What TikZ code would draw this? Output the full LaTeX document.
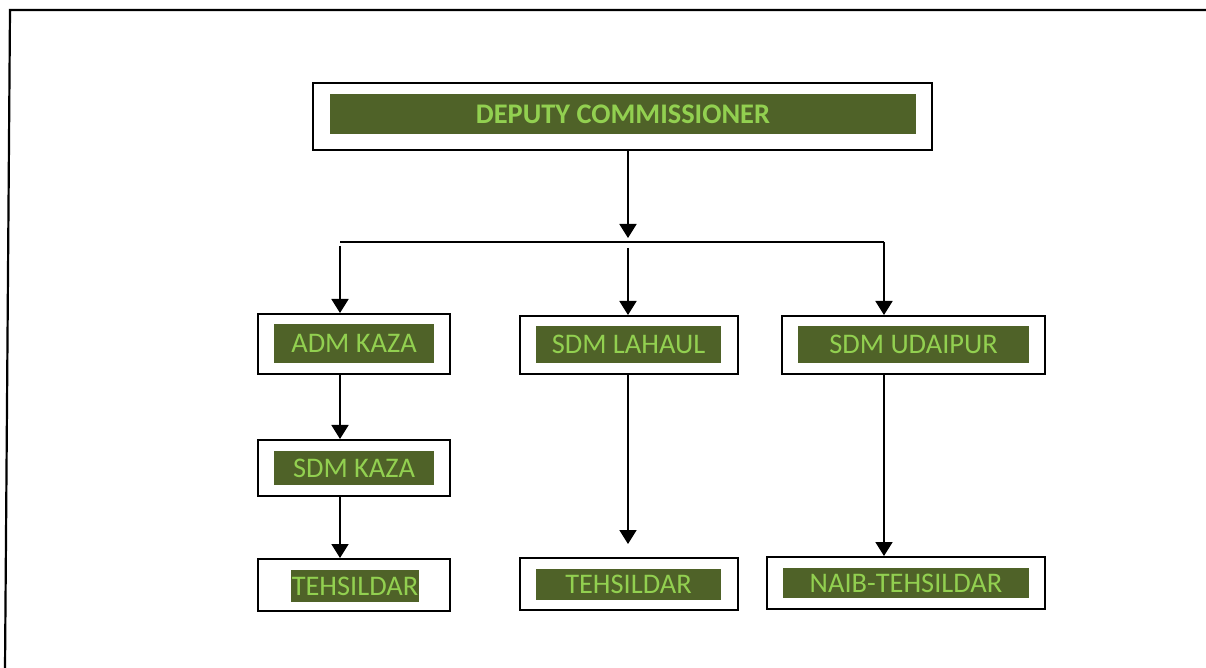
\documentclass[tikz,border=0pt]{standalone}
\usepackage{fontspec}
\setmainfont{Carlito}
\usetikzlibrary{arrows.meta}
\definecolor{olivedark}{RGB}{79,98,40}
\definecolor{leafgreen}{RGB}{146,208,80}
\begin{document}
\begin{tikzpicture}[x=0.5pt,y=-0.5pt,
  frame/.style={draw=black,line width=1pt,fill=white,inner sep=0pt},
  label/.style={fill=olivedark,text=leafgreen,inner sep=0pt,
    font=\fontsize{14.2}{16}\selectfont,text height=9.2pt,text depth=0pt},
  arr/.style={draw=black,line width=0.9pt,-{Triangle[width=8.5pt,length=7pt]}},
  link/.style={draw=black,line width=0.9pt}]
\useasboundingbox (0,0) rectangle (1206,668);
% page border
\draw[line width=1.1pt] (1210,10) -- (10,10) -- (5,670);

% top level
\node[frame,minimum width=309.5pt,minimum height=33.5pt] (dcbox) at (622.5,116.5) {};
\node[label,font=\fontsize{14.2}{16}\selectfont\bfseries,minimum width=293pt,minimum height=20pt] (dc) at (623,114) {DEPUTY COMMISSIONER};

% second level
\node[frame,minimum width=96pt,minimum height=30pt] (admbox) at (354,344) {};
\node[label,minimum width=80pt,minimum height=19.5pt] (adm) at (354,343.5) {ADM KAZA};
\node[frame,minimum width=109pt,minimum height=29pt] (lahbox) at (629,345) {};
\node[label,minimum width=92.5pt,minimum height=18.5pt] (lah) at (628.5,344.5) {SDM LAHAUL};
\node[frame,minimum width=131.5pt,minimum height=29pt] (udabox) at (913.5,345) {};
\node[label,minimum width=115.5pt,minimum height=18.5pt] (uda) at (913.5,344.5) {SDM UDAIPUR};

% third level
\node[frame,minimum width=96pt,minimum height=28pt] (skbox) at (354,468) {};
\node[label,minimum width=80pt,minimum height=17pt] (sk) at (354,468) {SDM KAZA};

% bottom level
\node[frame,minimum width=96pt,minimum height=26pt] (t1box) at (354,585) {};
\node[label,minimum width=64pt,minimum height=16pt] (t1) at (355,586) {TEHSILDAR};
\node[frame,minimum width=109pt,minimum height=26pt] (t2box) at (629,584) {};
\node[label,minimum width=92.5pt,minimum height=15.5pt] (t2) at (628.5,584.5) {TEHSILDAR};
\node[frame,minimum width=139pt,minimum height=26pt] (nbox) at (906,583) {};
\node[label,minimum width=123pt,minimum height=15pt] (nt) at (906,583) {NAIB-TEHSILDAR};

% connector points
\coordinate (join) at (628,238);
\coordinate (busL) at (340,242);
\coordinate (busR) at (884,242);
\coordinate (dropL) at (340,246);
\coordinate (dropM) at (628,248);
\coordinate (tipM) at (628,544);

% connectors
\draw[arr] (dcbox.south -| join) -- (join);
\draw[link] (busL) -- (busR);
\draw[arr] (busR) -- (busR |- udabox.north);
\draw[arr] (dropL) -- (dropL |- admbox.north);
\draw[arr] (dropM) -- (dropM |- lahbox.north);
\draw[arr] (admbox.south -| dropL) -- (dropL |- skbox.north);
\draw[arr] (skbox.south -| dropL) -- (dropL |- t1box.north);
\draw[arr] (lahbox.south -| dropM) -- (tipM);
\draw[arr] (udabox.south -| busR) -- (busR |- nbox.north);
\end{tikzpicture}
\end{document}
